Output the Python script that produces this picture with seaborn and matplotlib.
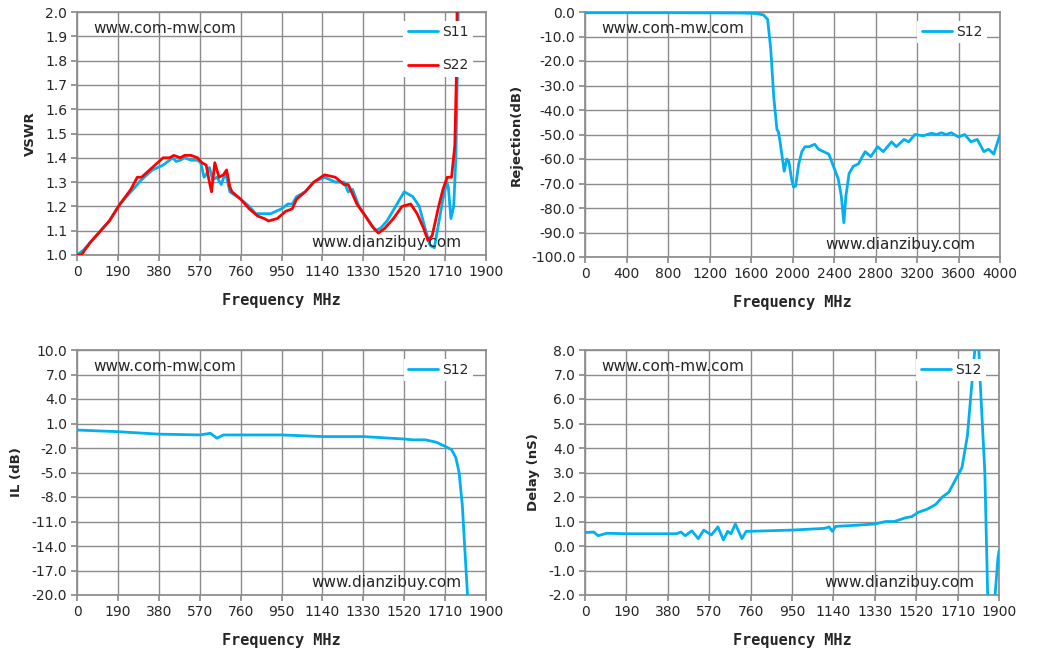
import numpy as np
import matplotlib
matplotlib.use('Agg')
import matplotlib.pyplot as plt
import seaborn as sns

sns.set_theme(style='white')
plt.rcParams['font.family'] = ['DejaVu Sans']

azul = '#00B0F0'
rojo = '#FF0000'
gris = '#8C8C8C'

# VSWR
s11 = [(0,1.0),(30,1.02),(60,1.05),(100,1.09),(150,1.14),(200,1.21),(250,1.26),(300,1.31),(350,1.35),(400,1.37),
       (430,1.39),(445,1.40),(460,1.385),(480,1.39),(500,1.40),(530,1.39),(560,1.39),(575,1.38),(590,1.32),(600,1.33),
       (615,1.36),(630,1.31),(650,1.32),(670,1.29),(690,1.34),(710,1.26),(760,1.23),(800,1.20),(830,1.17),(870,1.17),
       (900,1.17),(950,1.19),(980,1.21),(1000,1.21),(1020,1.24),(1060,1.26),(1100,1.30),(1150,1.32),(1200,1.30),
       (1240,1.30),(1260,1.26),(1280,1.27),(1310,1.20),(1340,1.16),(1370,1.12),(1385,1.10),(1410,1.11),(1440,1.14),
       (1480,1.20),(1520,1.26),(1560,1.24),(1590,1.20),(1620,1.10),(1640,1.04),(1660,1.03),(1680,1.13),(1700,1.23),
       (1718,1.30),(1725,1.28),(1737,1.15),(1750,1.20),(1760,1.40),(1768,1.80),(1772,2.05)]
s22 = [(0,1.0),(20,1.0),(60,1.05),(100,1.09),(150,1.14),(200,1.21),(250,1.27),(280,1.32),(300,1.32),(350,1.36),
       (400,1.40),(430,1.40),(450,1.41),(480,1.40),(500,1.41),(530,1.41),(560,1.40),(580,1.38),(600,1.37),(615,1.30),
       (625,1.26),(640,1.38),(660,1.32),(680,1.33),(695,1.35),(710,1.28),(720,1.26),(760,1.23),(800,1.19),(840,1.16),
       (870,1.15),(890,1.14),(930,1.15),(970,1.18),(1000,1.19),(1020,1.23),(1060,1.26),(1100,1.30),(1150,1.33),
       (1200,1.32),(1240,1.29),(1260,1.29),(1300,1.21),(1340,1.16),(1370,1.12),(1400,1.09),(1430,1.11),(1470,1.15),
       (1510,1.20),(1550,1.21),(1580,1.17),(1610,1.11),(1630,1.06),(1650,1.08),(1680,1.20),(1700,1.27),(1720,1.32),
       (1740,1.32),(1755,1.45),(1763,1.76),(1766,2.05)]

# Rechazo
rej = [(0,-0.3),(800,-0.3),(1500,-0.4),(1650,-0.6),(1720,-1.2),(1760,-3),(1790,-15),(1820,-35),(1850,-48),(1865,-49),
       (1880,-53),(1920,-65),(1945,-60),(1965,-61),(1990,-68),(2010,-71.5),(2030,-71),(2060,-62),(2090,-57),(2120,-55),
       (2160,-55),(2215,-54),(2250,-56),(2300,-57),(2350,-58),(2395,-63),(2440,-68),(2470,-75),(2495,-86),(2515,-75),
       (2545,-66),(2585,-63),(2635,-62),(2700,-57),(2755,-59),(2820,-55),(2875,-57),(2955,-53),(3000,-55),(3075,-52),
       (3120,-53),(3180,-50),(3260,-50.5),(3340,-49.5),(3390,-50),(3435,-49.3),(3480,-50),(3530,-49.3),(3600,-51),
       (3660,-50),(3720,-53),(3780,-52),(3845,-57),(3890,-56),(3940,-58),(4000,-50)]

# Perdida de insercion
il = [(0,0.2),(190,0.0),(380,-0.3),(570,-0.4),(620,-0.2),(650,-0.8),(680,-0.4),(760,-0.4),(950,-0.4),(1140,-0.6),
      (1330,-0.6),(1520,-0.9),(1560,-1.0),(1620,-1.0),(1670,-1.3),(1710,-1.8),(1740,-2.2),(1760,-3.2),(1775,-5.0),
      (1790,-9),(1803,-15),(1814,-20),(1816,-21)]

# Retardo
delay = [(0,0.55),(40,0.57),(60,0.42),(100,0.52),(190,0.5),(380,0.5),(420,0.5),(440,0.57),(460,0.42),(490,0.62),
         (520,0.3),(545,0.65),(580,0.45),(610,0.78),(635,0.25),(655,0.6),(670,0.5),(690,0.9),(720,0.3),(740,0.6),
         (760,0.6),(950,0.65),(1100,0.72),(1120,0.78),(1135,0.6),(1150,0.8),(1250,0.85),(1330,0.9),(1380,1.0),
         (1420,1.0),(1470,1.15),(1500,1.2),(1530,1.38),(1570,1.5),(1610,1.7),(1640,2.0),(1670,2.2),(1700,2.7),
         (1730,3.2),(1755,4.5),(1779,7.0),(1795,8.6),(1805,8.6),(1812,7.0),(1835,3.0),(1848,-2.0),(1852,-2.5),
         (1870,np.nan),(1878,-2.5),(1882,-2.0),(1895,-0.5),(1900,-0.2)]

fig = plt.figure(figsize=(10.38, 6.61), dpi=100)
W, H = 1038, 661

def make_ax(x0, x1, y0, y1):
    return fig.add_axes([x0/W, 1-y1/H, (x1-x0)/W, (y1-y0)/H])

def estilo(ax, ylabel, xmax, xstep, ymin, ymax, ystep, fmt):
    ax.set_xlim(0, xmax)
    ax.set_ylim(ymin, ymax)
    ax.set_xticks(np.arange(0, xmax+1, xstep))
    ax.set_yticks(np.arange(ymin, ymax+0.001, ystep))
    ax.yaxis.set_major_formatter(matplotlib.ticker.FormatStrFormatter(fmt))
    ax.grid(True, color=gris, linewidth=1)
    for s in ax.spines.values():
        s.set_color(gris)
    ax.tick_params(axis='both', labelsize=10, length=4, color=gris, direction='out', left=True, bottom=True, pad=3)
    ax.set_xlabel('Frequency MHz', fontsize=11, fontweight='bold', family='DejaVu Sans Mono', labelpad=10)
    ax.set_ylabel(ylabel, fontsize=9.5, fontweight='bold', labelpad=6)
    ax.text(0.04, 0.965, 'www.com-mw.com', transform=ax.transAxes, fontsize=11, va='top', ha='left')
    ax.text(0.94, 0.02, 'www.dianzibuy.com', transform=ax.transAxes, fontsize=11, va='bottom', ha='right')

def curva(ax, pts, color, label):
    d = np.array(pts, dtype=float)
    sns.lineplot(x=d[:, 0], y=d[:, 1], ax=ax, color=color, linewidth=2, label=label, sort=False, zorder=3)

def leyenda(ax, spacing):
    lg = ax.legend(loc='upper right', bbox_to_anchor=(0.975, 0.975), frameon=True, fontsize=10,
                   handlelength=2.2, handletextpad=0.3, labelspacing=spacing, borderpad=0.3,
                   borderaxespad=0.2, fancybox=False)
    lg.get_frame().set_facecolor('white')
    lg.get_frame().set_edgecolor('none')
    lg.get_frame().set_alpha(1)

ax1 = make_ax(77, 486, 12, 255)
curva(ax1, s11, azul, 'S11')
curva(ax1, s22, rojo, 'S22')
estilo(ax1, 'VSWR', 1900, 190, 1.0, 2.0, 0.1, '%.1f')
leyenda(ax1, 1.4)

ax2 = make_ax(585, 1000, 12, 257)
curva(ax2, rej, azul, 'S12')
estilo(ax2, 'Rejection(dB)', 4000, 400, -100, 0, 10, '%.1f')
leyenda(ax2, 1.0)

ax3 = make_ax(77, 486, 350, 595)
curva(ax3, il, azul, 'S12')
estilo(ax3, 'IL (dB)', 1900, 190, -20, 10, 3, '%.1f')
leyenda(ax3, 1.0)

ax4 = make_ax(585, 999, 350, 595)
curva(ax4, delay, azul, 'S12')
estilo(ax4, 'Delay (nS)', 1900, 190, -2, 8, 1, '%.1f')
leyenda(ax4, 1.0)

fig.savefig('out.png', dpi=100)
